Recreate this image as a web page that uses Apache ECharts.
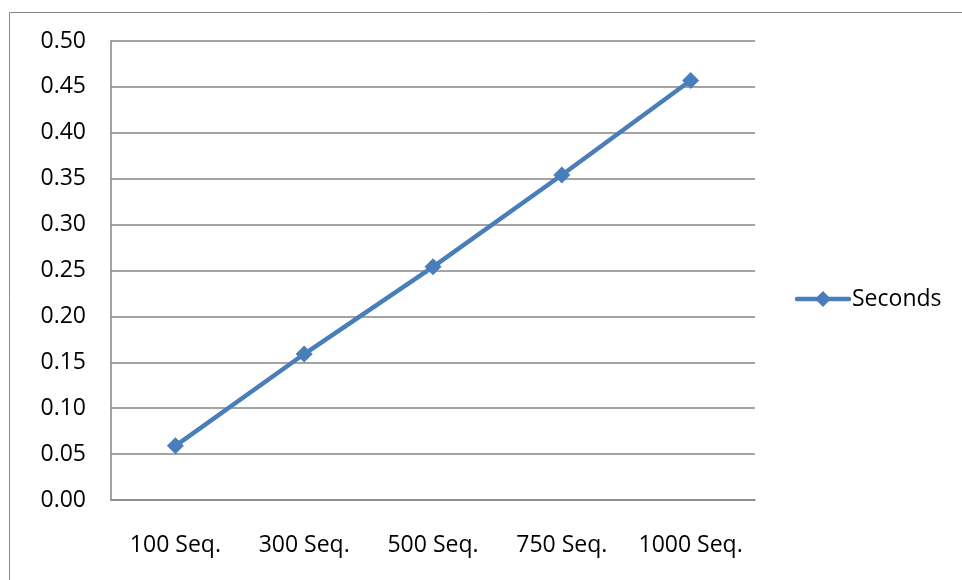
<!DOCTYPE html>
<html>
<head>
<meta charset="utf-8">
<script src="https://cdn.jsdelivr.net/npm/echarts@6/dist/echarts.min.js"></script>
<style>html,body{margin:0;padding:0;background:#fff;}#c{width:962px;height:580px;}</style>
</head>
<body>
<div id="c"></div>
<script>
const categories = ['100 Seq.', '300 Seq.', '500 Seq.', '750 Seq.', '1000 Seq.'];
const seconds = [0.059, 0.159, 0.254, 0.354, 0.457];
const seriesName = 'Seconds';

const chart = echarts.init(document.getElementById('c'));
const font = 'Open Sans, Liberation Sans, sans-serif';
const fs = 23;
chart.setOption({
  animation: false,
  backgroundColor: '#fff',
  grid: { left: 111, right: 207, top: 41, bottom: 80, containLabel: false },
  xAxis: {
    type: 'category',
    data: categories,
    boundaryGap: true,
    axisLine: { show: true, lineStyle: { color: '#868686', width: 1.5 } },
    axisTick: { show: false },
    axisLabel: { color: '#000', fontSize: fs, fontFamily: font, margin: 34, interval: 0, hideOverlap: false },
    splitLine: { show: false }
  },
  yAxis: {
    type: 'value',
    min: 0, max: 0.5, interval: 0.05,
    axisLine: { show: true, lineStyle: { color: '#868686', width: 1.5 } },
    axisTick: { show: false },
    axisLabel: { color: '#000', fontSize: fs, fontFamily: font, margin: 25,
      formatter: v => v.toFixed(2) },
    splitLine: { show: true, lineStyle: { color: '#868686', width: 1.5 } }
  },
  series: [{
    name: seriesName,
    type: 'line',
    data: seconds,
    symbol: 'diamond',
    symbolSize: 17,
    lineStyle: { color: '#4a7ebb', width: 4.5 },
    itemStyle: { color: '#4a7ebb' }
  }],
  graphic: [
    { type: 'rect', shape: { x: 9.5, y: 12.5, width: 1000, height: 1000 },
      style: { fill: 'none', stroke: '#868686', lineWidth: 1 } },
    { type: 'line', shape: { x1: 797, y1: 299, x2: 849, y2: 299 },
      style: { stroke: '#4a7ebb', lineWidth: 4.5, lineCap: 'round' } },
    { type: 'polygon', shape: { points: [[823, 291], [831, 299], [823, 307], [815, 299]] },
      style: { fill: '#4a7ebb' } },
    { type: 'text', x: 852, y: 299,
      style: { text: seriesName, fill: '#000', font: fs + 'px ' + font, verticalAlign: 'middle' } }
  ]
});
</script>
</body>
</html>
